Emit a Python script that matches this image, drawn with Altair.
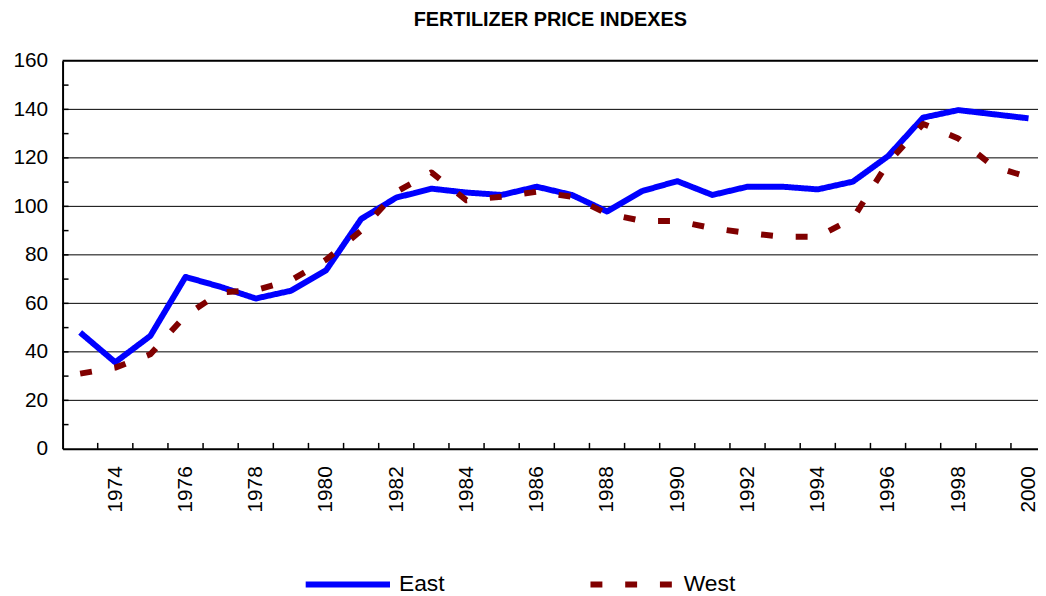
import altair as alt
import pandas as pd

years = list(range(1973, 2001))
east = [48.0, 35.7, 46.6, 70.9, 66.8, 62.0, 65.2, 73.6, 94.8, 103.6, 107.3, 105.7, 104.7, 108.1,
        104.7, 97.9, 106.3, 110.4, 104.7, 108.1, 108.1, 107.0, 110.2, 120.7, 136.6, 139.7, 138.0, 136.3]
west = [31.0, 33.5, 39.0, 55.0, 64.5, 65.5, 69.5, 78.0, 90.0, 106.0, 114.0, 102.5, 104.0, 106.0,
        104.0, 97.0, 94.0, 94.0, 91.0, 89.0, 87.5, 87.5, 95.0, 118.0, 134.0, 128.0, 116.5, 112.0]
series_names = ["East", "West"]
y_ticks = [0, 20, 40, 60, 80, 100, 120, 140, 160]
y_minor = [10, 30, 50, 70, 90, 110, 130, 150]
x_labels = list(range(1974, 2001, 2))
x_bounds = [y + 0.5 for y in range(1973, 2000)]

FONT = "Liberation Sans"
W, H = 983, 391

df = pd.DataFrame({
    "year": years * 2,
    "value": east + west,
    "series": ["East"] * len(years) + ["West"] * len(years),
})

xscale = alt.Scale(domain=[1972.5, 2000.27], nice=False, zero=False)
yscale = alt.Scale(domain=[0, 160], nice=False)

grid = alt.Chart(pd.DataFrame({"v": y_ticks[1:-1]})).mark_rule(color="black", strokeWidth=1).encode(
    y=alt.Y("v:Q", scale=yscale,
            axis=alt.Axis(values=y_ticks, labelFontSize=21, labelFont=FONT, labelColor="black",
                          tickSize=0, labelPadding=15, domainColor="black", domainWidth=2,
                          grid=False, title=None)),
)
top = alt.Chart(pd.DataFrame({"v": [160]})).mark_rule(color="black", strokeWidth=2).encode(
    y=alt.Y("v:Q", scale=yscale)
)
yminor = alt.Chart(pd.DataFrame({"v": y_minor + y_ticks[1:-1]})).mark_rule(color="black", strokeWidth=1.5).encode(
    y=alt.Y("v:Q", scale=yscale),
    x=alt.value(0), x2=alt.value(6),
)
xminor = alt.Chart(pd.DataFrame({"year": x_bounds})).mark_rule(color="black", strokeWidth=1.5).encode(
    x=alt.X("year:Q", scale=xscale),
    y=alt.value(H), y2=alt.value(H - 6),
)

legend_opts = dict(title=None, orient="none", legendX=242, legendY=482,
                   direction="horizontal", symbolType="stroke", symbolSize=7225,
                   symbolStrokeWidth=6, labelFontSize=23, labelFont=FONT,
                   labelColor="black", columnPadding=134, labelOffset=6, padding=0)

lines = alt.Chart(df).mark_line(strokeWidth=6, strokeCap="butt", strokeJoin="round").encode(
    x=alt.X("year:Q", scale=xscale,
            axis=alt.Axis(values=x_labels, format="d", labelAngle=-90, labelFontSize=21, labelFont=FONT,
                          labelColor="black", tickSize=0, labelPadding=17, domainColor="black",
                          domainWidth=2, grid=False, title=None, labelOverlap=False, labelFlush=False)),
    y=alt.Y("value:Q", scale=yscale),
    color=alt.Color("series:N", scale=alt.Scale(domain=series_names, range=["#0000FF", "#800000"]),
                    legend=alt.Legend(**legend_opts)),
    strokeDash=alt.StrokeDash("series:N", scale=alt.Scale(domain=series_names, range=[[1, 0], [12, 23]]),
                              legend=alt.Legend(**legend_opts)),
)

chart = alt.layer(grid, top, yminor, xminor, lines).properties(
    width=W, height=H,
    autosize=alt.AutoSizeParams(type="none"),
    padding={"left": 55, "top": 51, "right": 0, "bottom": 144},
    title=alt.TitleParams("FERTILIZER PRICE INDEXES", font=FONT, fontSize=20, fontWeight="bold",
                          color="black", anchor="middle", offset=20),
).configure_view(stroke=None).configure(background="white")

chart.save("out.html", embed_options={"renderer": "svg", "actions": False})
